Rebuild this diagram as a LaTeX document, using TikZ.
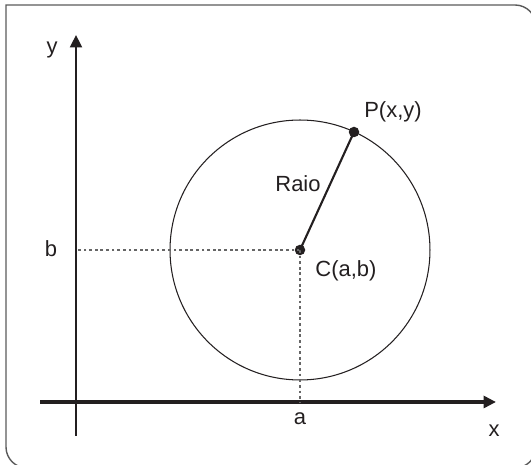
\documentclass[tikz,border=0pt]{standalone}
\usepackage{fontspec}
\setmainfont{Liberation Sans}
\usetikzlibrary{arrows.meta}
\definecolor{axisdark}{RGB}{35,31,32}
\definecolor{framegray}{RGB}{90,90,90}
\tikzset{
  frame/.style={draw=framegray, line width=0.8pt},
  axisline/.style={-{Triangle[length=0.25cm,width=0.24cm]}, draw=axisdark, fill=axisdark},
  guide/.style={draw=gray!80!black, line width=0.6pt, dash pattern=on 1.6pt off 1.6pt},
  dot/.style={circle, fill=axisdark, inner sep=0pt, minimum size=0.21cm},
  lbl/.style={font=\fontsize{12.5}{15}\selectfont, text=axisdark, inner sep=0pt},
}

\begin{document}
\begin{tikzpicture}[x=0.02cm,y=-0.02cm]
  \useasboundingbox (0,0) rectangle (531,465);
  % frame, cut off at the right and bottom
  \begin{scope}
    \clip (0,0) rectangle (531,465);
    \draw[frame] (6,240) -- (6,5) -- (300,5) [rounded corners=0.42cm] -- (536,5) -- (536,468) -- (6,468) -- cycle;
  \end{scope}

  % axes
  \coordinate (yfoot) at (76,436);
  \coordinate (ytip) at (76,35);
  \coordinate (xfoot) at (40,402);
  \coordinate (xtip) at (496,402);
  \draw[axisline, line width=1.4pt] (yfoot) -- (ytip);
  \draw[axisline, line width=2.2pt] (xfoot) -- (xtip);
  \node[lbl] (ylab) at (52,50) {y};
  \node[lbl] (xlab) at (494,431) {x};

  % circle, centre and point
  \node[dot] (C) at (300,250) {};
  \node[dot] (P) at (354,132) {};
  \draw[axisdark, line width=0.6pt] (C.center) circle[radius=2.6cm];
  \draw[guide] (C.center) -- (C.center -| yfoot);
  \draw[guide] (C.center) -- (C.center |- xfoot);
  \draw[axisdark, line width=1.2pt] (C.center) -- (P.center);

  % labels
  \node[lbl] (alab) at (300,419) {a};
  \node[lbl] (blab) at (51,249) {b};
  \node[lbl] (clab) at (346,271) {C(a,b)};
  \node[lbl] (plab) at (393,112) {P(x,y)};
  \node[lbl] (rlab) at (298,184) {Raio};
\end{tikzpicture}
\end{document}
